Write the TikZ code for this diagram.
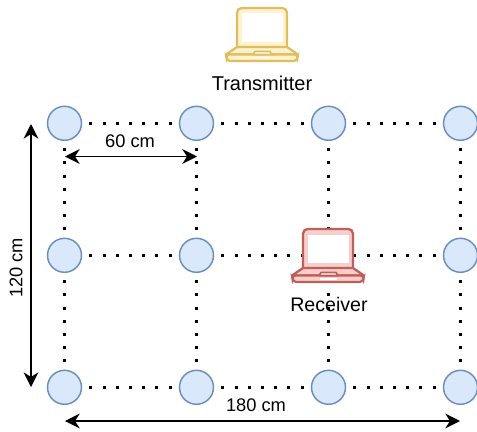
\documentclass[tikz,border=0pt]{standalone}
\usepackage{fontspec}
\setmainfont{Liberation Sans}
\usetikzlibrary{arrows.meta}
\definecolor{cfill}{HTML}{DAE8FC}
\definecolor{cline}{HTML}{6C8EBF}
\definecolor{yfill}{HTML}{FFF2CC}
\definecolor{yline}{HTML}{DDBE62}
\definecolor{rfill}{HTML}{F8CECC}
\definecolor{rline}{HTML}{BD5F5B}
\tikzset{
  x=0.75pt,y=-0.75pt,
  sensor/.style={circle,draw=cline,fill=cfill,line width=1.1pt,minimum size=25.5pt,inner sep=0pt,outer sep=0pt},
  dots/.style={line width=2.3pt,dash pattern=on 2.3pt off 7.6pt,shorten <=5.9pt,shorten >=5pt},
  measure/.style={line width=1.1pt,{Stealth[length=11pt,width=11pt,inset=3.5pt]}-{Stealth[length=11pt,width=11pt,inset=3.5pt]}},
  lbl/.style={font=\fontsize{13.7}{17}\selectfont,inner sep=0pt},
  pics/laptop/.style n args={2}{code={
    \draw[draw=#2,fill=#1,line width=1.7pt,rounded corners=3.5pt] (0,40) -- (0,0) -- (50,0) -- (50,40);
    \fill[white] (5,5.5) rectangle (45.5,34);
    \draw[draw=#2,fill=#1,line width=1.7pt,line join=round] (0,39) -- (50,39) -- (61,46.5) -- (-11,46.5) -- cycle;
    \draw[draw=#2,fill=#1,line width=1.7pt,rounded corners=2.5pt] (-11,46.5) -- (-10,53) -- (60,53) -- (61,46.5) -- cycle;
    \draw[draw=#2,fill=white,line width=1.2pt] (16,46.5) -- (18,43.5) -- (33,43.5) -- (35,46.5) -- cycle;
    \fill[white] (17,49) rectangle (34,50.5);
  }}
}
\begin{document}
\begin{tikzpicture}
\useasboundingbox (0,0) rectangle (477,431);
\foreach \n/\x/\y in {a1/64.5/123.3,a2/196.5/123.3,a3/328.5/123.3,a4/460.5/123.3,
                      b1/64.5/255.3,b2/196.5/255.3,b3/328.5/255.3,b4/460.5/255.3,
                      c1/64.5/387.3,c2/196.5/387.3,c3/328.5/387.3,c4/460.5/387.3}
  \node[sensor] (\n) at (\x,\y) {};
\foreach \p/\q in {a1/a2,a2/a3,a3/a4,b1/b2,b2/b3,b3/b4,c1/c2,c2/c3,c3/c4}
  \draw[dots] (\p.east) -- (\q.west);
\foreach \p/\q in {a1/b1,b1/c1,a2/b2,b2/c2,a3/b3,b3/c3,a4/b4,b4/c4}
  \draw[dots] (\p.south) -- (\q.north);
\pic at (237,8) {laptop={yfill}{yline}};
\pic at (303,229) {laptop={rfill}{rline}};
\node[lbl,font=\fontsize{15}{17}\selectfont] (tx) at (262,83) {Transmitter};
\node[lbl,font=\fontsize{14.7}{17}\selectfont] (rx) at (329,304) {Receiver};
\coordinate (m1a) at (65,156.5);
\coordinate (m1b) at (197,156.5);
\coordinate (m2a) at (31,124);
\coordinate (m2b) at (31,387);
\coordinate (m3a) at (65,421);
\coordinate (m3b) at (460,421);
\draw[measure] (m1a) -- (m1b);
\draw[measure] (m2a) -- (m2b);
\draw[measure] (m3a) -- (m3b);
\node[lbl] (l60) at (130,141) {60 cm};
\node[lbl] (l180) at (256,405) {180 cm};
\node[lbl,rotate=90] (l120) at (16,268) {120 cm};
\end{tikzpicture}
\end{document}
